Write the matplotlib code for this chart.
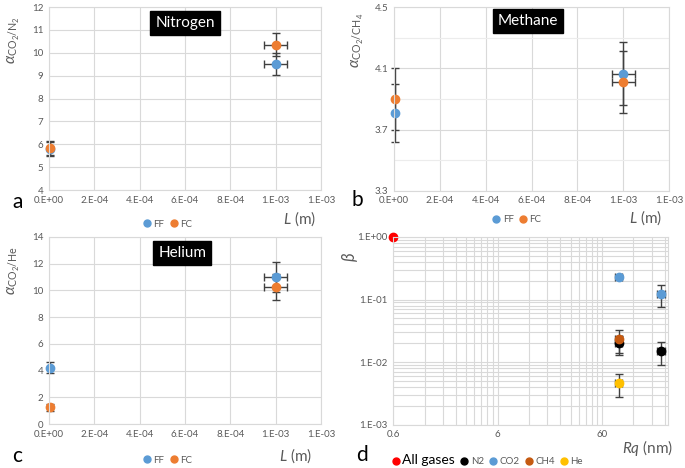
import matplotlib
matplotlib.use("Agg")
import matplotlib.pyplot as plt
from matplotlib.lines import Line2D
from matplotlib.ticker import FixedLocator, NullFormatter

plt.rcParams["font.family"] = ["Lato", "DejaVu Sans"]
plt.rcParams["mathtext.fontset"] = "custom"
plt.rcParams["mathtext.rm"] = "Lato"
plt.rcParams["mathtext.it"] = "Lato:italic"

# --- data -------------------------------------------------------------------
L_pos = [4e-6, 1.0e-3]
L_err = [0, 5e-5]
L_ticks = [0, 2e-4, 4e-4, 6e-4, 8e-4, 1.0e-3, 1.2e-3]
L_labels = ["0.E+00", "2.E-04", "4.E-04", "6.E-04", "8.E-04", "1.E-03", "1.E-03"]

n2_ff = [5.8, 9.5]
n2_ff_err = [0.3, 0.47]
n2_fc = [5.85, 10.35]
n2_fc_err = [0.3, 0.5]
n2_yticks = [4, 5, 6, 7, 8, 9, 10, 11, 12]

ch4_ff = [3.81, 4.065]
ch4_ff_err = [0.19, 0.205]
ch4_fc = [3.9, 4.01]
ch4_fc_err = [0.2, 0.2]
ch4_yticks = [3.3, 3.7, 4.1, 4.5]
ch4_ygrid = [3.5, 3.9, 4.3]

he_ff = [4.22, 11.0]
he_ff_err = [0.4, 1.1]
he_fc = [1.24, 10.25]
he_fc_err = [0.24, 1.0]
he_yticks = [0, 2, 4, 6, 8, 10, 12, 14]

rq_all = [0.6]
beta_all = [1.0]
rq = [87, 222]
rq_err = [7, 20]
beta_n2 = [0.020, 0.0149]
beta_n2_err = [0.006, 0.0058]
beta_co2 = [0.232, 0.124]
beta_co2_err = [0.01, 0.048]
beta_ch4 = [0.0231]
beta_ch4_err = [0.01]
beta_he = [0.0047]
beta_he_err = [0.0019]

BLUE = "#5B9BD5"
ORANGE = "#ED7D31"
GRID = "#d9d9d9"
TXT = "#595959"
ERR = "#404040"

fig = plt.figure(figsize=(6.85, 4.68), dpi=100)


def style(ax):
    for s in ax.spines.values():
        s.set_color(GRID)
        s.set_linewidth(0.8)
    ax.tick_params(which="both", length=0, labelsize=7, labelcolor=TXT, pad=4)
    ax.set_axisbelow(True)


def pts(ax, x, y, yerr, xerr, color):
    ax.errorbar(x, y, yerr=yerr, xerr=xerr, fmt="o", ms=6, color=color,
                ecolor=ERR, elinewidth=1, capsize=3, capthick=1, clip_on=False)


def legend(handles, labels, pos):
    return fig.legend(handles, labels, loc="center", bbox_to_anchor=pos,
                      ncol=len(labels), frameon=False, fontsize=7,
                      handlelength=0.7, handletextpad=0.3, columnspacing=0.6,
                      labelcolor=TXT)


def L_panel(rect, ff, ff_err, fc, fc_err, ylim, yticks, ylabel, title, tpos,
            letter, lpos, legpos, mpos, ygrid=None):
    ax = fig.add_axes(rect)
    style(ax)
    pts(ax, L_pos, ff, ff_err, L_err, BLUE)
    pts(ax, L_pos, fc, fc_err, L_err, ORANGE)
    ax.set_xlim(0, 1.2e-3)
    ax.set_ylim(*ylim)
    ax.xaxis.set_major_locator(FixedLocator(L_ticks))
    ax.set_xticklabels(L_labels)
    ax.yaxis.set_major_locator(FixedLocator(yticks))
    ax.set_yticklabels([f"{t:g}" for t in yticks])
    if ygrid:
        ax.yaxis.set_minor_locator(FixedLocator(ygrid))
        ax.grid(True, which="minor", axis="y", color="#ececec", lw=0.8)
    ax.grid(True, which="major", color=GRID, lw=0.8)
    ax.set_ylabel(ylabel, fontsize=11, color=TXT, labelpad=2)
    ax.yaxis.set_label_coords(-0.1, 0.82)
    ax.text(tpos[0], tpos[1], title, transform=ax.transAxes, ha="center",
            va="center", color="white", fontsize=11,
            bbox=dict(facecolor="black", edgecolor="black", pad=3.5))
    fig.text(lpos[0], lpos[1], letter, fontsize=15, ha="center", va="center")
    fig.text(mpos[0], mpos[1], r"$L$ (m)", fontsize=11, color=TXT,
             ha="center", va="center")
    handles = [Line2D([], [], marker="o", ls="", color=BLUE, ms=5),
               Line2D([], [], marker="o", ls="", color=ORANGE, ms=5)]
    legend(handles, ["FF", "FC"], legpos)
    return ax


L_panel([0.0715, 0.594, 0.397, 0.391], n2_ff, n2_ff_err, n2_fc, n2_fc_err,
        (4, 12), n2_yticks, r"$\alpha_{\mathrm{CO_2/N_2}}$", "Nitrogen", (0.5, 0.913),
        "a", (0.025, 0.568), (0.245, 0.521), (0.438, 0.532))
L_panel([0.575, 0.592, 0.402, 0.393], ch4_ff, ch4_ff_err, ch4_fc, ch4_fc_err,
        (3.3, 4.5), ch4_yticks, r"$\alpha_{\mathrm{CO_2/CH_4}}$", "Methane", (0.487, 0.924),
        "b", (0.521, 0.573), (0.755, 0.53), (0.942, 0.534), ygrid=ch4_ygrid)
L_panel([0.0715, 0.094, 0.397, 0.40], he_ff, he_ff_err, he_fc, he_fc_err,
        (0, 14), he_yticks, r"$\alpha_{\mathrm{CO_2/He}}$", "Helium", (0.49, 0.914),
        "c", (0.025, 0.026), (0.245, 0.017), (0.431, 0.026))

# --- panel d -----------------------------------------------------------------
ax = fig.add_axes([0.574, 0.092, 0.401, 0.402])
style(ax)
ax.set_xscale("log")
ax.set_yscale("log")
ax.errorbar(rq_all, beta_all, fmt="o", ms=6, color="#FF0000", clip_on=False)
pts(ax, rq, beta_n2, beta_n2_err, rq_err, "black")
pts(ax, rq, beta_co2, beta_co2_err, rq_err, BLUE)
pts(ax, rq[:1], beta_ch4, beta_ch4_err, rq_err[:1], "#C55A11")
pts(ax, rq[:1], beta_he, beta_he_err, rq_err[:1], "#FFC000")
ax.set_xlim(0.6, 257)
ax.set_ylim(1e-3, 1.0)
ax.xaxis.set_major_locator(FixedLocator([0.6, 6, 60]))
ax.set_xticklabels(["0.6", "6", "60"])
ax.xaxis.set_minor_locator(FixedLocator([k * d for d in (0.6, 6, 60) for k in range(2, 10)]))
ax.xaxis.set_minor_formatter(NullFormatter())
ax.yaxis.set_major_locator(FixedLocator([1e-3, 1e-2, 1e-1, 1.0]))
ax.set_yticklabels(["1.E-03", "1.E-02", "1.E-01", "1.E+00"])
ax.yaxis.set_minor_locator(FixedLocator([k * d for d in (1e-3, 1e-2, 1e-1) for k in range(2, 10)]))
ax.yaxis.set_minor_formatter(NullFormatter())
ax.grid(True, which="both", color=GRID, lw=0.8)
ax.set_ylabel(r"$\beta$", fontsize=12, color=TXT)
ax.yaxis.set_label_coords(-0.12, 0.89)
fig.text(0.528, 0.028, "d", fontsize=15, ha="center", va="center")
fig.text(0.946, 0.043, r"$Rq$ (nm)", fontsize=11, color=TXT, ha="center", va="center")
handles = [Line2D([], [], marker="o", ls="", color=c, ms=5)
           for c in ("#FF0000", "black", BLUE, "#C55A11", "#FFC000")]
leg = legend(handles, ["All gases", "N2", "CO2", "CH4", "He"], (0.712, 0.017))
leg.get_texts()[0].set_fontsize(10)
leg.get_texts()[0].set_color("black")

fig.savefig("out.png", dpi=100)
